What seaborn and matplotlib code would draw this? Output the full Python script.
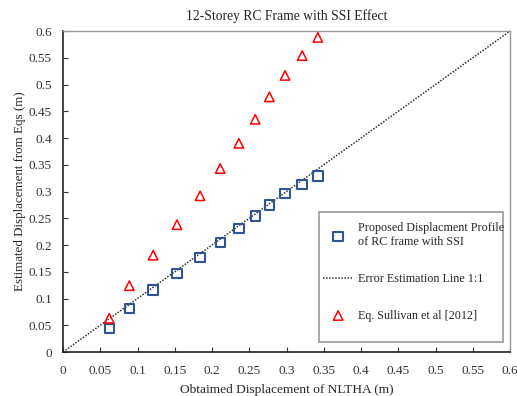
import numpy as np
import pandas as pd
import seaborn as sns
import matplotlib.pyplot as plt
from matplotlib.patches import Rectangle

# values
nltha = [0.062, 0.089, 0.121, 0.153, 0.184, 0.211, 0.236, 0.258, 0.277, 0.298, 0.321, 0.342]
proposed = [0.044, 0.081, 0.116, 0.147, 0.177, 0.205, 0.231, 0.254, 0.275, 0.296, 0.313, 0.329]
sullivan = [0.063, 0.124, 0.181, 0.238, 0.292, 0.343, 0.390, 0.435, 0.477, 0.517, 0.554, 0.588]
line_1to1 = [0.0, 0.6]

sns.set_style('ticks')
plt.rcParams['font.family'] = ['Liberation Serif', 'DejaVu Serif']
plt.rcParams['font.size'] = 9

fig = plt.figure(figsize=(5.17, 3.96), dpi=100)
ax = fig.add_axes([0.1219, 0.1111, 0.8646, 0.8106])

df = pd.DataFrame({'x': nltha, 'prop': proposed, 'sull': sullivan})

sns.scatterplot(data=df, x='x', y='prop', ax=ax, marker='s', s=46,
                facecolor='none', edgecolor='#2f5597', linewidth=1.5,
                label='Proposed Displacment Profile\nof RC frame with SSI', zorder=3)
sns.lineplot(x=line_1to1, y=line_1to1, ax=ax, color='#333333', linestyle=(0, (1, 1)),
             linewidth=1.1, label='Error Estimation Line 1:1', zorder=2)
sns.scatterplot(data=df, x='x', y='sull', ax=ax, marker='^', s=46,
                facecolor='none', edgecolor='#ff0000', linewidth=1.1,
                label='Eq. Sullivan et al [2012]', zorder=3)

ax.set_xlim(0, 0.6)
ax.set_ylim(0, 0.6)
ticks = np.arange(0, 0.61, 0.05)
labels = ['0'] + [f'{t:g}' for t in ticks[1:]]
ax.set_xticks(ticks)
ax.set_xticklabels(labels)
ax.set_yticks(ticks)
ax.set_yticklabels(labels)
ax.tick_params(direction='in', length=3.5, width=0.8, labelsize=9.5, colors='#333333')
ax.tick_params(axis='x', pad=9.5)
ax.tick_params(axis='y', pad=8)
for s in ['left', 'bottom']:
    ax.spines[s].set_color('#222222')
    ax.spines[s].set_linewidth(1.2)
for s in ['top', 'right']:
    ax.spines[s].set_visible(True)
    ax.spines[s].set_color('#999999')
    ax.spines[s].set_linewidth(1.0)

ax.set_title('12-Storey RC Frame with SSI Effect', fontsize=9.8, pad=8)
ax.set_xlabel('Obtaimed Displacement of NLTHA (m)', fontsize=9.6, labelpad=5)
ax.set_ylabel('Estimated Displacement from Eqs (m)', fontsize=9.4, labelpad=2)

# legend box (frame drawn separately, the reference box has a tall bottom margin)
ax.add_patch(Rectangle((0.5727, 0.031), 0.4116, 0.405, transform=ax.transAxes,
                       facecolor='white', edgecolor='#999999', linewidth=1.2, zorder=4))
leg = ax.legend(loc='upper left', bbox_to_anchor=(0.5817, 0.404), frameon=False,
                fontsize=8.7, labelspacing=2.05, handlelength=2.5, handletextpad=0.42,
                borderpad=0, borderaxespad=0)
leg.set_zorder(5)

fig.savefig('out.png', dpi=100)
